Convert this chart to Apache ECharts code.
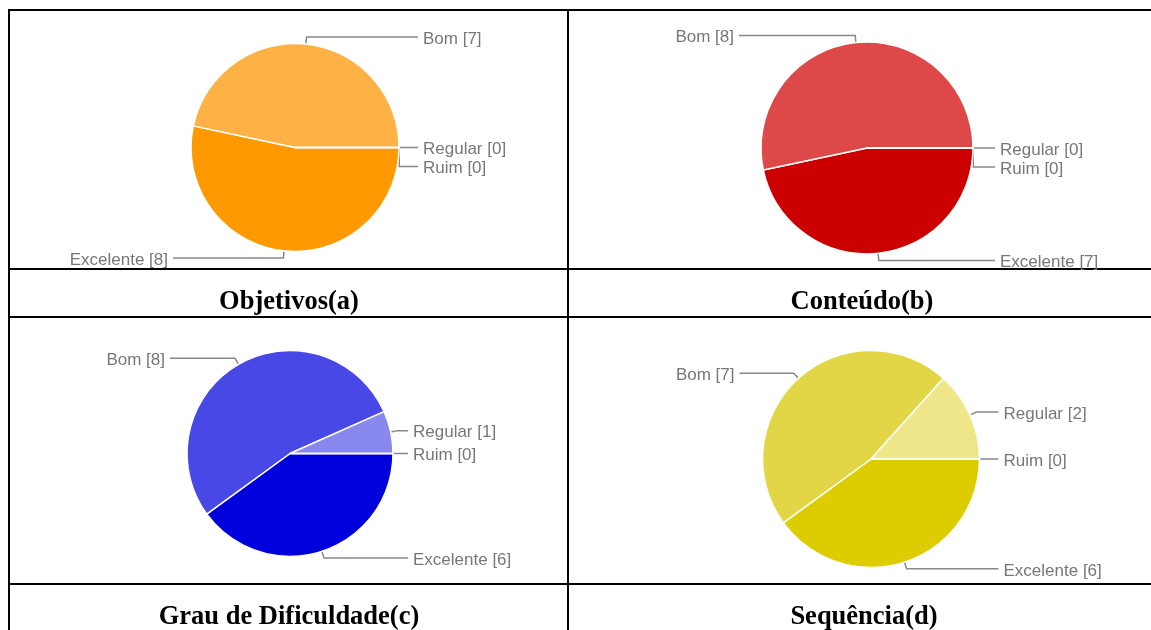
<!DOCTYPE html>
<html>
<head>
<meta charset="utf-8">
<script src="https://cdn.jsdelivr.net/npm/echarts@6/dist/echarts.min.js"></script>
<style>
  html, body { margin: 0; padding: 0; background: #fff; }
  #chart { width: 1151px; height: 630px; }
</style>
</head>
<body>
<div id="chart"></div>
<script>
// ordem das fatias: começa às 3 horas e segue no sentido horário
const categorias = ['Excelente', 'Bom', 'Regular', 'Ruim'];
const objetivos = [8, 7, 0, 0];
const conteudo = [7, 8, 0, 0];
const dificuldade = [6, 8, 1, 0];
const sequencia = [6, 7, 2, 0];
const legendas = ['Objetivos(a)', 'Conteúdo(b)', 'Grau de Dificuldade(c)', 'Sequência(d)'];

const coresLaranja = ['#ff9900', '#feb144', '#ffc980', '#ffe0b3'];
const coresVermelho = ['#cc0000', '#dd4848', '#e88080', '#f2b3b3'];
const coresAzul = ['#0000dd', '#4848e6', '#8888ee', '#b8b8f5'];
const coresAmarelo = ['#dccc00', '#e3d646', '#efe68a', '#f5efb8'];

const FONTE_ROTULO = '"Liberation Sans", Arial, sans-serif';

// gapEsq / gapDir: distância da borda da pizza até a coluna de rótulos
function pizza(valores, cores, cx, cy, r, gapEsq, gapDir) {
    return {
        type: 'pie',
        center: [cx, cy],
        radius: r,
        startAngle: 0,
        clockwise: true,
        animation: false,
        silent: true,
        data: categorias.map((nome, i) => ({ name: nome, value: valores[i], itemStyle: { color: cores[i] } })),
        itemStyle: { borderColor: '#ffffff', borderWidth: 1.5 },
        label: { formatter: '{b} [{c}]', color: '#777', fontSize: 17, fontFamily: FONTE_ROTULO },
        labelLine: { show: true, length: 7, length2: 12, smooth: false, lineStyle: { color: '#888', width: 1.5 } },
        emphasis: { disabled: true },
        // rótulos alinhados em coluna à esquerda/direita, como no Google Forms
        labelLayout: function (p) {
            const pts = p.labelLinePoints;
            if (!pts) return {};
            const direita = p.align !== 'right';
            const y = p.labelRect.y + p.labelRect.height / 2;
            const x = direita ? cx + r + gapDir : cx - r - gapEsq;
            return {
                x: x,
                y: y + 2,
                align: direita ? 'left' : 'right',
                verticalAlign: 'middle',
                labelLinePoints: [pts[0], [pts[1][0], y], [direita ? x - 5 : x + 5, y]]
            };
        }
    };
}

// linhas da tabela
const linhasTabela = [
    [8, 10, 1151, 10],
    [8, 269, 1151, 269],
    [8, 317, 1151, 317],
    [8, 584, 1151, 584],
    [9, 9, 9, 630],
    [568, 9, 568, 630]
];

const posLegendas = [[289, 302], [862, 302], [289, 617], [864, 617]];

const graficos = [];
linhasTabela.forEach(l => graficos.push({
    type: 'line', silent: true,
    shape: { x1: l[0], y1: l[1], x2: l[2], y2: l[3] },
    style: { stroke: '#000', lineWidth: 2 }
}));
legendas.forEach((t, i) => graficos.push({
    type: 'text', silent: true,
    x: posLegendas[i][0], y: posLegendas[i][1],
    style: {
        text: t, fill: '#000',
        font: 'bold 26.5px "Liberation Serif", "Times New Roman", serif',
        align: 'center', verticalAlign: 'middle',
        textAlign: 'center', textVerticalAlign: 'middle'
    }
}));

const chart = echarts.init(document.getElementById('chart'), null, { renderer: 'canvas' });
chart.setOption({
    backgroundColor: '#ffffff',
    animation: false,
    graphic: graficos,
    series: [
        pizza(objetivos, coresLaranja, 295, 147.5, 104, 23, 24),
        pizza(conteudo, coresVermelho, 867, 148, 106, 27, 27),
        pizza(dificuldade, coresAzul, 290, 453.5, 103, 22, 20),
        pizza(sequencia, coresAmarelo, 871, 459, 108.5, 28, 24)
    ]
});
</script>
</body>
</html>
